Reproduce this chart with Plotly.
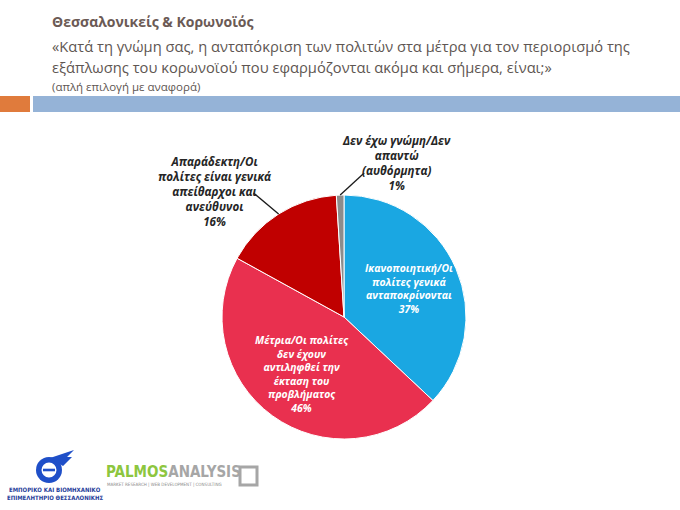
import math
import plotly.graph_objects as go

# ---- data ----
categories = [
    "Ικανοποιητική/Οι πολίτες γενικά ανταποκρίνονται",
    "Μέτρια/Οι πολίτες δεν έχουν αντιληφθεί την έκταση του προβλήματος",
    "Απαράδεκτη/Οι πολίτες είναι γενικά απείθαρχοι και ανεύθυνοι",
    "Δεν έχω γνώμη/Δεν απαντώ (αυθόρμητα)",
]
values = [37, 46, 16, 1]
wrapped_labels = [
    "Ικανοποιητική/Οι<br>πολίτες γενικά<br>ανταποκρίνονται",
    "Μέτρια/Οι πολίτες<br>δεν έχουν<br>αντιληφθεί την<br>έκταση του<br>προβλήματος",
    "Απαράδεκτη/Οι<br>πολίτες είναι γενικά<br>απείθαρχοι και<br>ανεύθυνοι",
    "Δεν έχω γνώμη/Δεν<br>απαντώ<br>(αυθόρμητα)",
]
colors = ["#1AA7E2", "#E9304F", "#C00000", "#8C8C8C"]
inside = [True, True, False, False]

title = "Θεσσαλονικείς & Κορωνοϊός"
subtitle1 = "«Κατά τη γνώμη σας, η ανταπόκριση των πολιτών στα μέτρα για τον περιορισμό της"
subtitle2 = "εξάπλωσης του κορωνοϊού που εφαρμόζονται ακόμα και σήμερα, είναι;»"
note = "(απλή επιλογή με αναφορά)"

W, H = 680, 510
FONT = "Open Sans"
INSIDE_SIZE = 10.4
OUTSIDE_SIZE = 11.6

# pie placement (pixels)
cx, cy, R = 344, 317, 122
dom_x = [(cx - R) / W, (cx + R) / W]
dom_y = [1 - (cy + R) / H, 1 - (cy - R) / H]

fig = go.Figure()
fig.add_trace(go.Pie(
    labels=categories,
    values=values,
    sort=False,
    direction="clockwise",
    rotation=0,
    marker=dict(colors=colors, line=dict(color="white", width=1)),
    textinfo="none",
    domain=dict(x=dom_x, y=dom_y),
    showlegend=False,
    hoverinfo="label+percent",
))

# labels: positions derived from slice angles (data)
total = sum(values)
INSIDE_FRAC = 0.58
label_offsets = {2: (-64, -22), 3: (56, -32)}     # label centre relative to slice edge
leader_offsets = {2: (-25, -21), 3: (24, -22)}    # leader start relative to slice edge
annotations = []
shapes = []
cum = 0
for i, v in enumerate(values):
    mid = (cum + v / 2) / total * 2 * math.pi
    cum += v
    txt = f"<b><i>{wrapped_labels[i]}<br>{values[i]}%</i></b>"
    if inside[i]:
        lx = cx + INSIDE_FRAC * R * math.sin(mid)
        ly = cy - INSIDE_FRAC * R * math.cos(mid)
        annotations.append(dict(
            x=lx / W, y=1 - ly / H, xref="paper", yref="paper",
            xanchor="center", yanchor="middle", text=txt, showarrow=False,
            font=dict(family=FONT, size=INSIDE_SIZE, color="white"), align="center",
        ))
        continue
    px = cx + R * math.sin(mid)
    py = cy - R * math.cos(mid)
    ox, oy = label_offsets[i]
    annotations.append(dict(
        x=(px + ox) / W, y=1 - (py + oy) / H, xref="paper", yref="paper",
        xanchor="center", yanchor="middle", text=txt, showarrow=False,
        font=dict(family=FONT, size=OUTSIDE_SIZE, color="#262626"), align="center",
    ))
    sx, sy = leader_offsets[i]
    shapes.append(dict(
        type="line", xref="paper", yref="paper",
        x0=(px + sx) / W, y0=1 - (py + sy) / H, x1=px / W, y1=1 - py / H,
        line=dict(color="#1a1a1a", width=1.3),
    ))

# header texts
annotations += [
    dict(x=50 / W, y=1 - 22 / H, xref="paper", yref="paper", xanchor="left", yanchor="middle",
         text=f"<b>{title}</b>", showarrow=False,
         font=dict(family=FONT, size=14, color="#6B5A55")),
    dict(x=50 / W, y=1 - 46 / H, xref="paper", yref="paper", xanchor="left", yanchor="middle",
         text=subtitle1, showarrow=False,
         font=dict(family=FONT, size=14.7, color="#5E5652")),
    dict(x=50 / W, y=1 - 67 / H, xref="paper", yref="paper", xanchor="left", yanchor="middle",
         text=subtitle2, showarrow=False,
         font=dict(family=FONT, size=14.7, color="#5E5652")),
    dict(x=50 / W, y=1 - 86 / H, xref="paper", yref="paper", xanchor="left", yanchor="middle",
         text=note, showarrow=False,
         font=dict(family=FONT, size=11.5, color="#5E5652")),
]

# logos (text approximations)
annotations += [
    dict(x=55 / W, y=1 - 489 / H, xref="paper", yref="paper", xanchor="center", yanchor="middle",
         text="<b>ΕΜΠΟΡΙΚΟ ΚΑΙ ΒΙΟΜΗΧΑΝΙΚΟ</b>", showarrow=False,
         font=dict(family="DejaVu Sans Condensed, Liberation Sans", size=6, color="#1F3E9A")),
    dict(x=55 / W, y=1 - 497 / H, xref="paper", yref="paper", xanchor="center", yanchor="middle",
         text="<b>ΕΠΙΜΕΛΗΤΗΡΙΟ ΘΕΣΣΑΛΟΝΙΚΗΣ</b>", showarrow=False,
         font=dict(family="DejaVu Sans Condensed, Liberation Sans", size=6, color="#1F3E9A")),
    dict(x=104 / W, y=1 - 472 / H, xref="paper", yref="paper", xanchor="left", yanchor="middle",
         text="<b><span style='color:#8DC63F'>PALMOS</span><span style='color:#A6A6A6'>ANALYSIS</span></b>",
         showarrow=False,
         font=dict(family="DejaVu Sans Condensed, Liberation Sans", size=15)),
    dict(x=105 / W, y=1 - 485 / H, xref="paper", yref="paper", xanchor="left", yanchor="middle",
         text="MARKET RESEARCH | WEB DEVELOPMENT | CONSULTING", showarrow=False,
         font=dict(family="DejaVu Sans Condensed, Liberation Sans", size=4.5, color="#8C8C8C")),
]

def px_rect(x0, y0, x1, y1, **kw):
    return dict(type="rect", xref="paper", yref="paper",
                x0=x0 / W, x1=x1 / W, y0=1 - y1 / H, y1=1 - y0 / H, **kw)

shapes += [
    px_rect(0, 96, 30, 112, fillcolor="#E07B3C", line=dict(width=0)),
    px_rect(33, 96, 680, 112, fillcolor="#95B3D7", line=dict(width=0)),
    # EBETh emblem (approximation)
    dict(type="circle", xref="paper", yref="paper",
         x0=36 / W, x1=62 / W, y0=1 - 483 / H, y1=1 - 457 / H,
         fillcolor="#1F4FC8", line=dict(width=0)),
    dict(type="circle", xref="paper", yref="paper",
         x0=41.5 / W, x1=56.5 / W, y0=1 - 477.5 / H, y1=1 - 462.5 / H,
         fillcolor="white", line=dict(width=0)),
    px_rect(43, 468.7, 55, 471.3, fillcolor="#1F4FC8", line=dict(width=0)),
    dict(type="path", xref="paper", yref="paper",
         path=f"M {50/W},{1-458/H} L {74/W},{1-450/H} L {67/W},{1-457/H} L {72/W},{1-457/H} L {63/W},{1-466/H} Z",
         fillcolor="#1F4FC8", line=dict(width=0)),
    # palmos square mark
    px_rect(240, 467, 257, 485, fillcolor="rgba(0,0,0,0)", line=dict(color="#A6A6A6", width=3)),
]

fig.update_layout(
    width=W, height=H,
    margin=dict(l=0, r=0, t=0, b=0),
    paper_bgcolor="white", plot_bgcolor="white",
    annotations=annotations, shapes=shapes,
    font=dict(family=FONT),
)

fig.write_html("out.html", config={"displayModeBar": False},
               post_script="document.body.style.margin='0';")
